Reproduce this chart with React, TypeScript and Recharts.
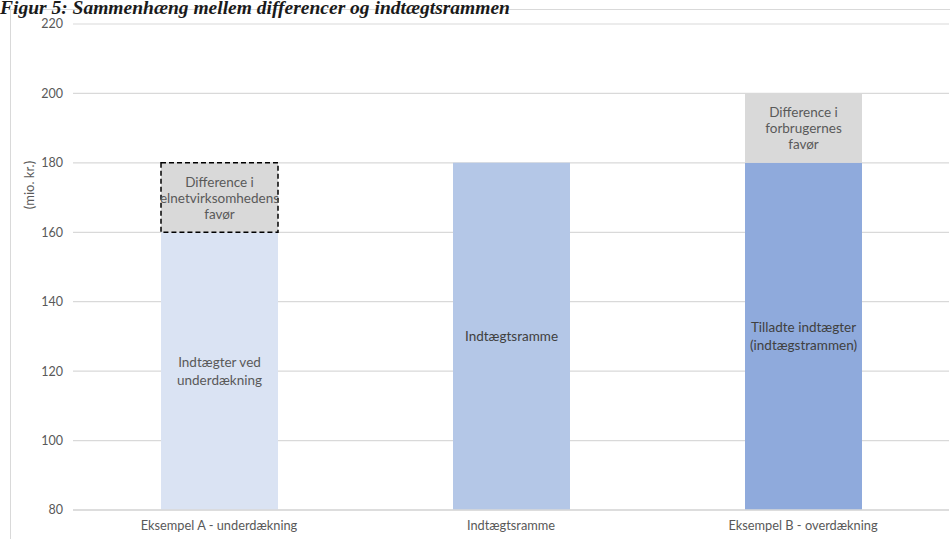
import React from "react";
import {
  BarChart,
  Bar,
  XAxis,
  YAxis,
  CartesianGrid,
  Cell,
  LabelList,
} from "recharts";

// chart values
const categories = ["Eksempel A - underdækning", "Indtægtsramme", "Eksempel B - overdækning"];
const baseValues = [160, 180, 180];
const diffValues = [20, 0, 20];
const baseLabels = ["Indtægter ved\nunderdækning", "Indtægtsramme", "Tilladte indtægter\n(indtægstrammen)"];
const diffLabels = ["Difference i\nelnetvirksomhedens\nfavør", "", "Difference i\nforbrugernes\nfavør"];
const yTicks = [80, 100, 120, 140, 160, 180, 200, 220];

const baseColors = ["#DAE3F3", "#B4C7E7", "#8FAADC"];
const baseTextColors = ["#595959", "#404040", "#404040"];
const FONT = "Lato, 'Open Sans', sans-serif";

const data = categories.map((name, i) => ({
  name,
  base: baseValues[i],
  diff: diffValues[i],
  baseLabel: baseLabels[i],
  diffLabel: diffLabels[i],
}));

function MultiLine(props: any) {
  const { x, y, width, height, value, index, colors, lh = 17 } = props;
  if (!value) return null;
  const lines = String(value).split("\n");
  const cx = x + width / 2;
  const cy = y + height / 2 - ((lines.length - 1) * lh) / 2;
  return (
    <text
      x={cx}
      y={cy}
      textAnchor="middle"
      dominantBaseline="central"
      fontFamily={FONT}
      fontSize={13.5}
      fill={colors ? colors[index] : "#595959"}
    >
      {lines.map((l, i) => (
        <tspan key={i} x={cx} dy={i === 0 ? 0 : lh}>
          {l}
        </tspan>
      ))}
    </text>
  );
}

export default function App() {
  return (
    <div
      style={{
        position: "absolute",
        left: 0,
        top: 0,
        width: 950,
        height: 539,
        overflow: "hidden",
        background: "#fff",
      }}
    >
      <div
        style={{
          position: "absolute",
          left: 10,
          top: 9,
          width: 1000,
          height: 600,
          border: "1px solid #d9d9d9",
        }}
      />
      <div
        style={{
          position: "absolute",
          left: 0,
          top: 0,
          fontFamily: "'Liberation Serif', serif",
          fontWeight: "bold",
          fontStyle: "italic",
          fontSize: 19.5,
          color: "#1a1a1a",
          whiteSpace: "nowrap",
          lineHeight: "16px",
        }}
      >
        Figur 5: Sammenhæng mellem differencer og indtægtsrammen
      </div>
      <div style={{ position: "absolute", left: 0, top: 0 }}>
        <BarChart
          width={950}
          height={539}
          data={data}
          margin={{ top: 24, right: 1, bottom: 9, left: 0 }}
          barCategoryGap={0}
        >
          <CartesianGrid vertical={false} stroke="#d9d9d9" strokeWidth={1.2} />
          <XAxis
            dataKey="name"
            axisLine={{ stroke: "#d9d9d9", strokeWidth: 1.5 }}
            tickLine={false}
            tickSize={0}
            tickMargin={11}
            height={20}
            interval={0}
            tick={{ fill: "#595959", fontSize: 12.8, fontFamily: FONT }}
          />
          <YAxis
            domain={[80, 220]}
            allowDataOverflow
            ticks={yTicks}
            axisLine={false}
            tickLine={false}
            tickSize={0}
            tickMargin={10}
            width={73}
            tick={{ fill: "#595959", fontSize: 12.5, fontFamily: FONT }}
            label={() => (
              <text
                x={0}
                y={0}
                transform="translate(34,185) rotate(-90)"
                textAnchor="middle"
                fontFamily={FONT}
                fontSize={13}
                fill="#595959"
              >
                (mio. kr.)
              </text>
            )}
          />
          <Bar dataKey="base" stackId="a" barSize={117} isAnimationActive={false}>
            {data.map((d, i) => (
              <Cell key={i} fill={baseColors[i]} />
            ))}
            <LabelList
              dataKey="baseLabel"
              content={(p: any) => <MultiLine {...p} colors={baseTextColors} lh={18} />}
            />
          </Bar>
          <Bar dataKey="diff" stackId="a" barSize={117} isAnimationActive={false}>
            {data.map((d, i) => (
              <Cell
                key={i}
                fill="#D9D9D9"
                stroke={i === 0 ? "#000" : "none"}
                strokeWidth={i === 0 ? 1.5 : 0}
                strokeDasharray={i === 0 ? "5 3" : undefined}
              />
            ))}
            <LabelList dataKey="diffLabel" content={(p: any) => <MultiLine {...p} lh={16} />} />
          </Bar>
        </BarChart>
      </div>
    </div>
  );
}
